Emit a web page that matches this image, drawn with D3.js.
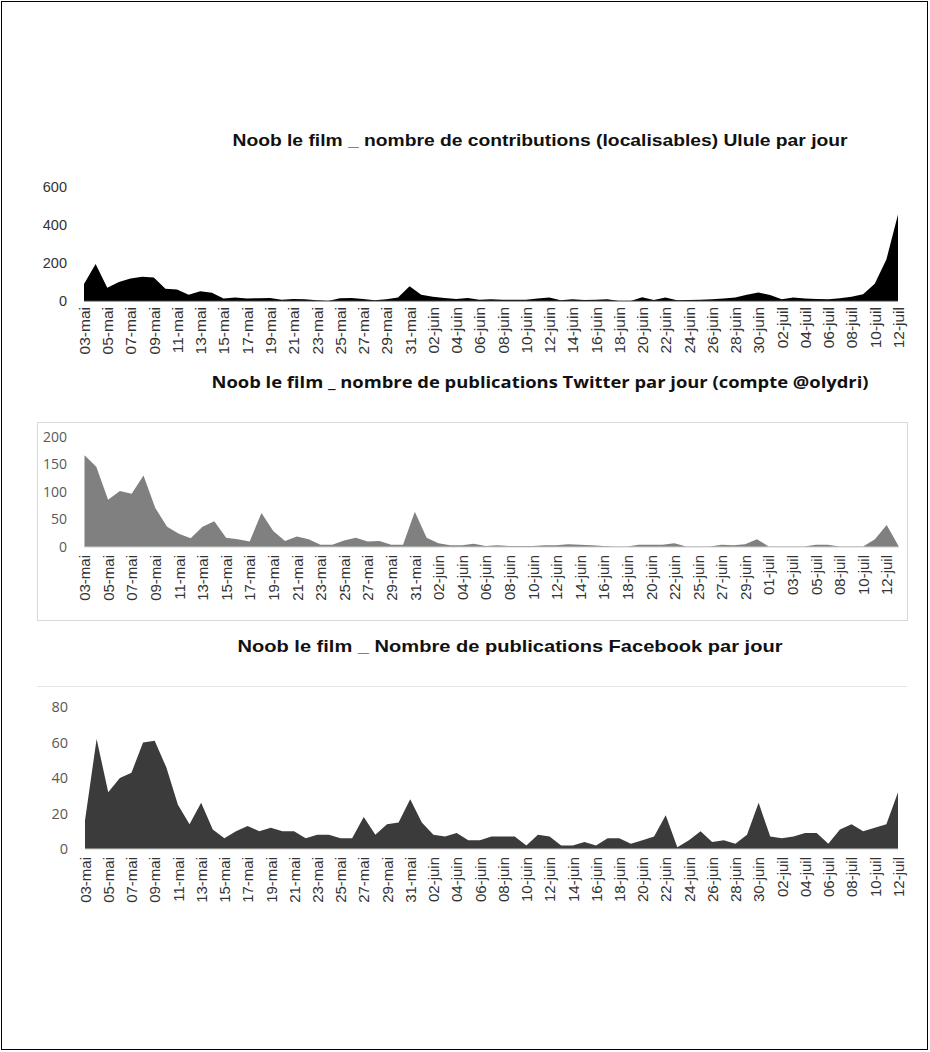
<!DOCTYPE html>
<html>
<head>
<meta charset="utf-8">
<script src="https://cdn.jsdelivr.net/npm/d3@7"></script>
<style>
body { margin: 0; background: #fff; }
svg { display: block; }
</style>
</head>
<body>
<svg id="chart" width="930" height="1052"></svg>
<script>
// daily categories 03-mai -> 12-juil (Ulule + Facebook)
const daysDaily = [
  "03-mai","04-mai","05-mai","06-mai","07-mai","08-mai","09-mai","10-mai","11-mai","12-mai",
  "13-mai","14-mai","15-mai","16-mai","17-mai","18-mai","19-mai","20-mai","21-mai","22-mai",
  "23-mai","24-mai","25-mai","26-mai","27-mai","28-mai","29-mai","30-mai","31-mai",
  "01-juin","02-juin","03-juin","04-juin","05-juin","06-juin","07-juin","08-juin","09-juin","10-juin",
  "11-juin","12-juin","13-juin","14-juin","15-juin","16-juin","17-juin","18-juin","19-juin","20-juin",
  "21-juin","22-juin","23-juin","24-juin","25-juin","26-juin","27-juin","28-juin","29-juin","30-juin",
  "01-juil","02-juil","03-juil","04-juil","05-juil","06-juil","07-juil","08-juil","09-juil","10-juil",
  "11-juil","12-juil"
];

// twitter export skips a couple of days
const daysTwitter = [
  "03-mai","04-mai","05-mai","06-mai","07-mai","08-mai","09-mai","10-mai","11-mai","12-mai",
  "13-mai","14-mai","15-mai","16-mai","17-mai","18-mai","19-mai","20-mai","21-mai","22-mai",
  "23-mai","24-mai","25-mai","26-mai","27-mai","28-mai","29-mai","30-mai","31-mai",
  "01-juin","02-juin","03-juin","04-juin","05-juin","06-juin","07-juin","08-juin","09-juin","10-juin",
  "11-juin","12-juin","13-juin","14-juin","15-juin","16-juin","17-juin","18-juin","19-juin","20-juin",
  "21-juin","22-juin","23-juin","25-juin","26-juin","27-juin","28-juin","29-juin","30-juin",
  "01-juil","02-juil","03-juil","04-juil","05-juil","06-juil","08-juil","09-juil","10-juil",
  "11-juil","12-juil","13-juil"
];

const ululeValues = [
  90,195,70,100,118,127,124,64,60,33,51,44,13,18,13,15,16,7,11,9,4,0,15,16,11,4,9,18,78,
  33,22,16,11,16,7,9,7,7,7,13,18,4,9,5,7,9,0,0,20,5,18,4,5,7,9,13,18,33,45,
  31,9,18,13,11,9,15,22,36,91,218,455
];

const twitterValues = [
  167,146,86,102,97,130,71,37,24,16,37,47,17,14,10,62,29,11,19,14,4,4,12,17,10,11,4,4,64,
  17,7,3,3,6,2,3,2,2,2,3,3,5,4,3,2,1,1,4,4,4,7,1,1,1,4,3,5,14,
  1,1,1,1,4,4,1,1,1,14,40,2
];

const facebookValues = [
  16,62,32,40,43,60,61,46,25,14,26,11,6,10,13,10,12,10,10,6,8,8,6,6,18,8,14,15,28,
  15,8,7,9,5,5,7,7,7,2,8,7,2,2,4,2,6,6,3,5,7,19,1,5,10,4,5,3,8,26,
  7,6,7,9,9,3,11,14,10,12,14,32
];

const ululeTicks = [0, 200, 400, 600];
const twitterTicks = [0, 50, 100, 150, 200];
const facebookTicks = [0, 20, 40, 60, 80];

const titles = [
  "Noob le film _ nombre de contributions (localisables) Ulule par jour",
  "Noob le film _ nombre de publications Twitter par jour (compte @olydri)",
  "Noob le film _ Nombre de publications Facebook par jour"
];

const svg = d3.select("#chart");

// outer border of the picture
svg.append("rect")
  .attr("x", 1.5).attr("y", 1.5)
  .attr("width", 926).attr("height", 1048)
  .attr("fill", "none")
  .attr("stroke", "#000")
  .attr("stroke-width", 1);

// chart frames
svg.append("rect")
  .attr("x", 37.5).attr("y", 422.5)
  .attr("width", 870).attr("height", 198)
  .attr("fill", "none")
  .attr("stroke", "#d9d9d9");

svg.append("line")
  .attr("x1", 37).attr("x2", 907)
  .attr("y1", 686.5).attr("y2", 686.5)
  .attr("stroke", "#e3e3e3");

function drawPanel(p) {
  const x = d3.scalePoint().domain(p.cats).range(p.xRange);
  const y = d3.scaleLinear().domain([0, p.yMax]).range(p.yRange);
  const g = svg.append("g");

  const area = d3.area()
    .x((d, i) => x(p.cats[i]))
    .y0(y(0))
    .y1(d => y(d));

  g.append("path")
    .datum(p.values)
    .attr("d", area)
    .attr("fill", p.fill);

  // baseline
  g.append("line")
    .attr("x1", p.xRange[0]).attr("x2", p.xRange[1])
    .attr("y1", y(0)).attr("y2", y(0))
    .attr("stroke", p.baseColor)
    .attr("stroke-width", 1);

  // x axis, one label out of two, rotated
  const xAxis = g.append("g")
    .attr("transform", "translate(0," + y(0) + ")")
    .call(d3.axisBottom(x)
      .tickValues(p.cats.filter((d, i) => i % 2 === 0))
      .tickSize(0));
  xAxis.select(".domain").remove();
  xAxis.selectAll("text")
    .attr("transform", "rotate(-90)")
    .attr("x", -p.labelGap)
    .attr("y", 0)
    .attr("dy", "0.35em")
    .style("text-anchor", "end")
    .style("font-family", "'Liberation Sans', Arial, sans-serif")
    .style("font-size", p.xFont + "px")
    .attr("fill", "#333");

  // y axis
  const yAxis = g.append("g")
    .attr("transform", "translate(" + p.yLabelX + ",0)")
    .call(d3.axisLeft(y).tickValues(p.yTicks).tickSize(0).tickPadding(0));
  yAxis.select(".domain").remove();
  yAxis.selectAll("text")
    .style("font-family", p.yFamily)
    .style("font-size", p.yFont + "px")
    .attr("fill", p.yColor);

  // title
  svg.append("text")
    .attr("x", p.titleX)
    .attr("y", p.titleY)
    .attr("text-anchor", "middle")
    .attr("textLength", p.titleW)
    .attr("lengthAdjust", "spacingAndGlyphs")
    .style("font-family", p.titleFamily)
    .style("font-weight", "bold")
    .style("font-size", p.titleSize + "px")
    .attr("fill", "#111")
    .text(p.title);
}

drawPanel({
  cats: daysDaily, values: ululeValues, fill: "#000",
  xRange: [84, 898], yRange: [301, 187], yMax: 600, yTicks: ululeTicks,
  baseColor: "#444", labelGap: 6, xFont: 15.5,
  yLabelX: 67, yFamily: "'Liberation Sans', Arial, sans-serif", yFont: 14.5, yColor: "#333",
  title: titles[0], titleX: 540, titleY: 146, titleW: 615, titleSize: 16,
  titleFamily: "'Liberation Sans', Arial, sans-serif"
});

drawPanel({
  cats: daysTwitter, values: twitterValues, fill: "#808080",
  xRange: [84.5, 898.5], yRange: [547, 437], yMax: 200, yTicks: twitterTicks,
  baseColor: "#d0d0d0", labelGap: 8, xFont: 15,
  yLabelX: 67, yFamily: "'Open Sans', sans-serif", yFont: 14, yColor: "#595959",
  title: titles[1], titleX: 540, titleY: 388, titleW: 657, titleSize: 15.5,
  titleFamily: "'Open Sans', sans-serif"
});

drawPanel({
  cats: daysDaily, values: facebookValues, fill: "#3b3b3b",
  xRange: [85, 898], yRange: [849, 707], yMax: 80, yTicks: facebookTicks,
  baseColor: "#d0d0d0", labelGap: 8, xFont: 15,
  yLabelX: 68, yFamily: "'Open Sans', sans-serif", yFont: 14.5, yColor: "#595959",
  title: titles[2], titleX: 510, titleY: 652, titleW: 545, titleSize: 17,
  titleFamily: "'Liberation Sans', Arial, sans-serif"
});
</script>
</body>
</html>
